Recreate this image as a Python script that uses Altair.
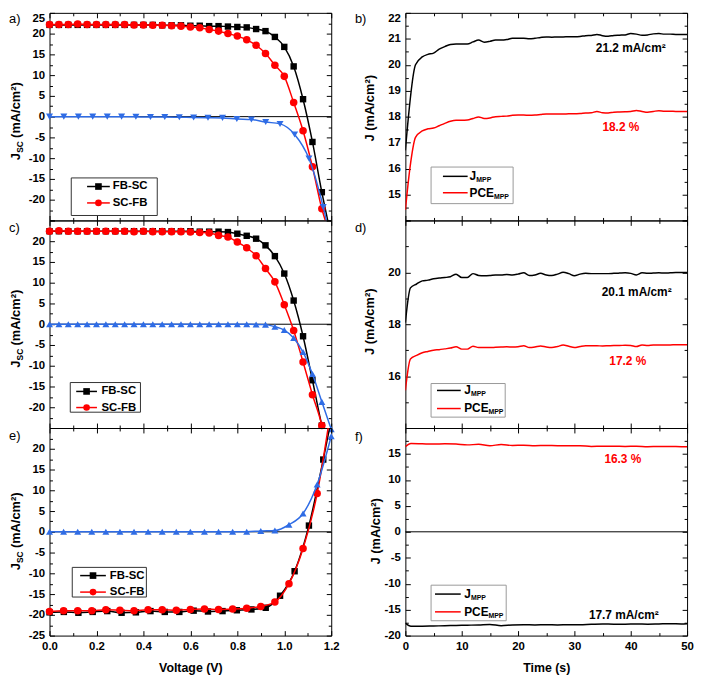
import altair as alt
import pandas as pd

FONT = "Liberation Sans"
BLACK = "#000000"
RED = "#ff0000"
BLUE = "#2f6ce5"
PW, PH = 285, 210

# ---------------- data ----------------
V_DOM = [0, 1.2]
J_DOM = [-25, 25]
T_DOM = [0, 50]
BD_DOM = [14, 22]
F_DOM = [-20, 20]

# a) J-V
a_fb_v = [0.00, 0.04, 0.08, 0.12, 0.16, 0.20, 0.24, 0.28, 0.32, 0.36, 0.40, 0.44, 0.48, 0.52, 0.56,
          0.60, 0.64, 0.68, 0.72, 0.76, 0.80, 0.84, 0.88, 0.92, 0.96, 1.00, 1.04, 1.08, 1.12, 1.16]
a_fb_j = [22.1, 22.1, 22.1, 22.1, 22.1, 22.1, 22.1, 22.1, 22.1, 22.1, 22.1, 22.1, 22.0, 22.0, 22.0,
          21.9, 21.9, 21.8, 21.8, 21.7, 21.6, 21.5, 21.1, 20.6, 19.2, 16.8, 12.1, 4.2, -6.1, -18.2]
a_fb_tail_v, a_fb_tail_j = [1.19], [-26.3]
a_sc_v = a_fb_v
a_sc_j = [22.2, 22.2, 22.2, 22.3, 22.2, 22.2, 22.2, 22.2, 22.2, 22.1, 22.1, 22.0, 22.0, 21.9, 21.8,
          21.6, 21.4, 21.0, 20.6, 20.0, 19.4, 18.5, 17.2, 15.2, 12.4, 9.7, 3.4, -3.4, -12.1, -22.2]
a_sc_tail_v, a_sc_tail_j = [1.19], [-27.6]
a_bl_v = [0.000, 0.061, 0.123, 0.184, 0.246, 0.307, 0.368, 0.430, 0.491, 0.553, 0.614, 0.675, 0.737,
          0.798, 0.860, 0.921, 0.982, 1.044, 1.105, 1.166]
a_bl_j = [0.0, 0.0, 0.0, 0.0, 0.0, 0.0, -0.05, -0.1, -0.1, -0.15, -0.2, -0.25, -0.3, -0.55, -0.7,
          -1.3, -1.75, -4.3, -10.1, -21.8]
a_bl_tail_v, a_bl_tail_j = [1.19], [-27.7]

# c) J-V
c_fb_v = a_fb_v
c_fb_j = [22.4, 22.4, 22.4, 22.4, 22.4, 22.4, 22.4, 22.4, 22.4, 22.4, 22.4, 22.4, 22.4, 22.4, 22.4,
          22.4, 22.3, 22.3, 22.3, 22.2, 21.8, 21.3, 20.6, 19.0, 16.4, 12.2, 5.7, -2.9, -13.5, -24.4]
c_fb_tail_v, c_fb_tail_j = [1.18], [-29.0]
c_sc_v = a_fb_v
c_sc_j = [22.4, 22.5, 22.4, 22.4, 22.4, 22.4, 22.4, 22.4, 22.4, 22.3, 22.4, 22.3, 22.3, 22.3, 22.3,
          22.2, 22.1, 22.0, 21.4, 21.0, 19.8, 18.4, 16.5, 13.4, 10.2, 4.7, -1.5, -9.1, -17.0, -24.4]
c_sc_tail_v, c_sc_tail_j = [1.18], [-30.0]
c_bl_v = a_fb_v + [1.20]
c_bl_j = [0.0] * 21 + [-0.02, -0.05, -0.1, -0.6, -1.4, -3.3, -6.7, -12.0, -18.7, -25.3]

# e) J-V
e_sc_v = [0.00, 0.06, 0.12, 0.18, 0.24, 0.30, 0.36, 0.42, 0.48, 0.54, 0.60, 0.66, 0.72, 0.78, 0.84,
          0.90, 0.96, 1.02, 1.08, 1.14]
e_sc_j = [-19.2, -19.0, -19.0, -19.0, -18.8, -18.9, -19.0, -18.8, -18.8, -18.9, -18.7, -18.6, -18.7,
          -18.6, -18.4, -18.0, -16.9, -12.5, -4.0, 9.2]
e_sc_tail_v, e_sc_tail_j = [1.20], [30.0]
e_fb_v = a_bl_v
e_fb_j = [-19.4, -19.3, -19.5, -19.3, -19.1, -19.5, -19.4, -19.1, -19.3, -19.3, -19.0, -19.2, -19.1,
          -18.9, -18.7, -18.3, -15.4, -9.5, 1.5, 17.4]
e_fb_tail_v, e_fb_tail_j = [1.20], [27.0]
e_bl_v = e_sc_v + [1.20]
e_bl_j = [0.0] * 15 + [0.2, 0.3, 1.7, 4.4, 11.4, 23.0]

zero_line = [0]

# b) MPP tracking
b_j_t = [0, 1.8, 3, 4, 5, 6, 7, 8, 9, 10, 11, 12, 13, 14, 15, 16, 17, 18, 19, 20, 21, 22, 23, 24, 25,
         26, 27, 28, 29, 30, 31, 32, 33, 34, 35, 36, 37, 38, 39, 40, 41, 42, 43, 44, 45, 46, 47, 48, 49, 50]
b_j = [16.7, 20.0, 20.3, 20.4, 20.45, 20.6, 20.7, 20.78, 20.8, 20.8, 20.8, 20.88, 20.95, 20.87, 20.9,
       20.95, 20.95, 20.97, 21.02, 21.02, 21.02, 21.0, 21.02, 21.05, 21.07, 21.06, 21.07, 21.07, 21.08,
       21.08, 21.09, 21.12, 21.13, 21.17, 21.12, 21.1, 21.13, 21.14, 21.15, 21.2, 21.18, 21.14, 21.15,
       21.19, 21.2, 21.18, 21.18, 21.17, 21.17, 21.17]
b_p_t = [0, 0.8, 1.8, 3, 4, 5, 6, 7, 8, 9, 10, 11, 12, 13, 14, 15, 16, 17, 18, 19, 20, 21, 22, 23, 24,
         25, 26, 27, 28, 29, 30, 31, 32, 33, 34, 35, 36, 37, 38, 39, 40, 41, 42, 43, 44, 45, 46, 47, 48, 49, 50]
b_p = [14.4, 16.0, 17.2, 17.45, 17.53, 17.56, 17.65, 17.74, 17.82, 17.86, 17.86, 17.87, 17.93, 17.99,
       17.93, 17.95, 18.0, 18.01, 18.02, 18.05, 18.06, 18.06, 18.05, 18.06, 18.08, 18.1, 18.1, 18.1,
       18.1, 18.11, 18.11, 18.12, 18.14, 18.15, 18.2, 18.15, 18.14, 18.17, 18.18, 18.19, 18.2, 18.24,
       18.2, 18.17, 18.2, 18.23, 18.21, 18.21, 18.2, 18.2, 18.2]

# d) MPP tracking
d_t = [0, 0.9, 2, 3, 4, 5, 6, 7, 8, 9, 10, 11, 12, 13, 14, 15, 16, 17, 18, 19, 20, 21, 22, 23, 24, 25,
       26, 27, 28, 29, 30, 31, 32, 33, 34, 35, 36, 37, 38, 39, 40, 41, 42, 43, 44, 45, 46, 47, 48, 49, 50]
d_j = [18.06, 19.4, 19.55, 19.67, 19.7, 19.75, 19.78, 19.8, 19.83, 19.93, 19.8, 19.8, 19.95, 19.88,
       19.87, 19.88, 19.9, 19.9, 19.92, 19.9, 19.93, 19.98, 19.88, 19.9, 19.96, 19.9, 19.88, 19.93, 20.0,
       19.95, 19.87, 19.93, 19.96, 19.95, 19.95, 19.95, 19.95, 19.96, 19.97, 19.98, 19.96, 19.9, 19.98,
       19.96, 19.97, 19.98, 19.97, 19.98, 19.99, 19.99, 19.99]
d_p = [15.45, 16.66, 16.8, 16.9, 16.95, 17.0, 17.02, 17.05, 17.08, 17.13, 17.04, 17.04, 17.15, 17.1,
       17.1, 17.1, 17.11, 17.12, 17.13, 17.12, 17.13, 17.17, 17.1, 17.12, 17.16, 17.12, 17.1, 17.14,
       17.2, 17.15, 17.1, 17.14, 17.17, 17.17, 17.17, 17.16, 17.17, 17.18, 17.18, 17.19, 17.18, 17.14,
       17.2, 17.18, 17.2, 17.2, 17.2, 17.2, 17.21, 17.21, 17.21]

# f) MPP tracking
f_t = [0, 1, 3, 5, 7, 9, 11, 13, 15, 17, 19, 21, 23, 25, 27, 29, 31, 33, 35, 37, 39, 41, 43, 45, 47, 49, 50]
f_p = [16.4, 17.0, 16.95, 16.9, 16.95, 16.9, 16.75, 16.85, 16.6, 16.8, 16.65, 16.7, 16.6, 16.65, 16.6,
       16.6, 16.6, 16.45, 16.5, 16.5, 16.45, 16.5, 16.4, 16.45, 16.45, 16.4, 16.4]
f_j = [-17.6, -18.2, -18.2, -18.15, -18.1, -18.05, -18.0, -17.95, -17.85, -18.1, -17.95, -17.9, -17.95,
       -17.9, -17.95, -17.9, -17.9, -17.8, -17.75, -17.8, -17.8, -17.75, -17.8, -17.75, -17.7, -17.75, -17.7]

# tick values / labels
v_major = [0, 0.2, 0.4, 0.6, 0.8, 1.0, 1.2]
v_minor = [0.1, 0.3, 0.5, 0.7, 0.9, 1.1]
jv_major = [-25, -20, -15, -10, -5, 0, 5, 10, 15, 20, 25]
jv_minor = [-22.5, -17.5, -12.5, -7.5, -2.5, 2.5, 7.5, 12.5, 17.5, 22.5]
a_labels = [25, 20, 15, 10, 5, 0, -5, -10, -15, -20]
c_labels = [20, 15, 10, 5, 0, -5, -10, -15, -20]
e_labels = [20, 15, 10, 5, 0, -5, -10, -15, -20, -25]
t_major = [0, 10, 20, 30, 40, 50]
t_minor = [5, 15, 25, 35, 45]
b_major = [14, 15, 16, 17, 18, 19, 20, 21, 22]
b_minor = [14.5, 15.5, 16.5, 17.5, 18.5, 19.5, 20.5, 21.5]
b_labels = [15, 16, 17, 18, 19, 20, 21, 22]
d_major = [14, 16, 18, 20, 22]
d_minor = [15, 17, 19, 21]
d_labels = [16, 18, 20]
f_major = [-20, -15, -10, -5, 0, 5, 10, 15, 20]
f_minor = [-17.5, -12.5, -7.5, -2.5, 2.5, 7.5, 12.5, 17.5]
f_labels = [-20, -15, -10, -5, 0, 5, 10, 15]


# ---------------- helpers ----------------
def sc(d):
    return alt.Scale(domain=d, nice=False, zero=False)


def tick_axis(orient, vals, size):
    return alt.Axis(orient=orient, values=vals, tickSize=size, offset=-size, labels=False,
                    domain=False, grid=False, ticks=True, title=None, tickColor=BLACK, tickWidth=1)


def axes_layers(xd, yd, xmaj, xmin, ymaj, ymin, ylabels, ylabel_flush=False, ytitle=None,
                xlabels=None, xfmt=None, xtitle=None):
    df = pd.DataFrame({"x": [xd[0]], "y": [yd[0]]})

    def mk(xax, yax):
        return alt.Chart(df).mark_point(opacity=0).encode(
            x=alt.X("x:Q", scale=sc(xd), axis=xax),
            y=alt.Y("y:Q", scale=sc(yd), axis=yax))

    ykw = dict(orient="left", values=ylabels, ticks=False, domain=False, grid=False, labelPadding=5,
               labelExpr="datum.value + ''", labelOverlap=False, labelFlush=ylabel_flush)
    if ytitle:
        txt, tx, ty = ytitle
        ykw.update(title=txt, titleX=tx, titleY=ty, titleAngle=270, titleAlign="center",
                   titleBaseline="alphabetic", titleFontSize=13, titleFontWeight="bold",
                   titleFont=FONT, titleColor=BLACK)
    else:
        ykw.update(title=None)
    yl = alt.Axis(**ykw)
    if xlabels:
        xkw = dict(orient="bottom", values=xlabels, ticks=False, domain=False, grid=False,
                   labelPadding=5, labelFlush=False, labelOverlap=False, format=xfmt,
                   title=xtitle, titleY=36, titleBaseline="alphabetic", titleFontSize=12.5,
                   titleFontWeight="bold", titleFont=FONT, titleColor=BLACK)
        xl = alt.Axis(**xkw)
    else:
        xl = None
    return [
        mk(xl, yl),
        mk(tick_axis("bottom", xmaj, 5), tick_axis("left", ymaj, 5)),
        mk(tick_axis("bottom", xmin, 3), tick_axis("left", ymin, 3)),
        mk(tick_axis("top", xmaj, 5), tick_axis("right", ymaj, 5)),
        mk(tick_axis("top", xmin, 3), tick_axis("right", ymin, 3)),
    ]


def line(xs, ys, xd, yd, color, width=1.5):
    df = pd.DataFrame({"x": xs, "y": ys})
    return alt.Chart(df).mark_line(color=color, strokeWidth=width, interpolate="monotone",
                                   clip=True).encode(
        x=alt.X("x:Q", scale=sc(xd), axis=None), y=alt.Y("y:Q", scale=sc(yd), axis=None))


def pts(xs, ys, xd, yd, color, shape, size):
    df = pd.DataFrame({"x": xs, "y": ys})
    return alt.Chart(df).mark_point(shape=shape, filled=True, color=color, size=size,
                                    opacity=1).encode(
        x=alt.X("x:Q", scale=sc(xd), axis=None), y=alt.Y("y:Q", scale=sc(yd), axis=None))


def zero(yd):
    return alt.Chart(pd.DataFrame({"y": zero_line})).mark_rule(color=BLACK, strokeWidth=1).encode(
        y=alt.Y("y:Q", scale=sc(yd), axis=None))


def text(t, x, y, size=12, color=BLACK, weight="bold", align="left", baseline="middle",
         angle=0, dx=0, dy=0):
    return alt.Chart(pd.DataFrame({"t": [t]})).mark_text(
        align=align, baseline=baseline, font=FONT, fontSize=size, fontWeight=weight, color=color,
        angle=angle, dx=dx, dy=dy).encode(x=alt.value(x), y=alt.value(y), text="t:N")


def jsc_title(x, y):
    return [text("J", x, y, 13, angle=270, baseline="alphabetic"),
            text("SC", x, y, 8.5, angle=270, baseline="alphabetic", dx=7.4, dy=3),
            text("(mA/cm²)", x, y, 13, angle=270, baseline="alphabetic", dx=22.5)]


def box(x1, y1, x2, y2, stroke):
    return alt.Chart(pd.DataFrame({"a": [0]})).mark_rect(fill="white", stroke=stroke,
                                                         strokeWidth=1).encode(
        x=alt.value(x1), x2=alt.value(x2), y=alt.value(y1), y2=alt.value(y2))


def hline(x1, x2, y, color, width=1.5):
    return alt.Chart(pd.DataFrame({"a": [0]})).mark_rule(color=color, strokeWidth=width).encode(
        x=alt.value(x1), x2=alt.value(x2), y=alt.value(y))


def marker(x, y, color, shape, size):
    return alt.Chart(pd.DataFrame({"a": [0]})).mark_point(shape=shape, filled=True, color=color,
                                                          size=size, opacity=1).encode(
        x=alt.value(x), y=alt.value(y))


def jv_legend(bx, lx, tx, rows):
    out = [box(*bx, stroke="#333333")]
    for lab, color, shape, y in rows:
        out += [hline(lx[0], lx[1], y, color), marker((lx[0] + lx[1]) / 2, y, color, shape, 45),
                text(lab, tx, y, 11.5)]
    return out


def mpp_legend(bx, lx, tx, ys):
    out = [box(*bx, stroke="#999999")]
    out += [hline(lx[0], lx[1], ys[0], BLACK), text("J", tx, ys[0], 12),
            text("MPP", tx + 6.8, ys[0], 7, dy=4)]
    out += [hline(lx[0], lx[1], ys[1], RED), text("PCE", tx, ys[1], 12),
            text("MPP", tx + 24.6, ys[1], 7, dy=4)]
    return out


def jv_series(fb, sc_, bl, tri):
    (fv, fj, ftv, ftj), (sv, sj, stv, stj), (bv, bj, btv, btj) = fb, sc_, bl
    return [
        line(fv + ftv, fj + ftj, V_DOM, J_DOM, BLACK),
        pts(fv, fj, V_DOM, J_DOM, BLACK, "square", 42),
        line(sv + stv, sj + stj, V_DOM, J_DOM, RED),
        pts(sv, sj, V_DOM, J_DOM, RED, "circle", 58),
        line(bv + btv, bj + btj, V_DOM, J_DOM, BLUE),
        pts(bv, bj, V_DOM, J_DOM, BLUE, tri, 50),
    ]


def panel(layers):
    return alt.layer(*layers).resolve_axis(x="independent", y="independent").properties(
        width=PW, height=PH)


# ---------------- panels ----------------
pa = panel(
    [zero(J_DOM)]
    + axes_layers(V_DOM, J_DOM, v_major, v_minor, jv_major, jv_minor, a_labels, ylabel_flush=True)
    + jv_series((a_fb_v, a_fb_j, a_fb_tail_v, a_fb_tail_j), (a_sc_v, a_sc_j, a_sc_tail_v, a_sc_tail_j),
                (a_bl_v, a_bl_j, a_bl_tail_v, a_bl_tail_j), "triangle-down")
    + jv_legend((22, 167, 109, 205), (38, 61), 64, [("FB-SC", BLACK, "square", 175.7),
                                                    ("SC-FB", RED, "circle", 192.3)])
    + jsc_title(-30, 149)
    + [text("a)", -41, 10, 13, weight="normal", baseline="alphabetic")]
)

pc = panel(
    [zero(J_DOM)]
    + axes_layers(V_DOM, J_DOM, v_major, v_minor, jv_major, jv_minor, c_labels)
    + jv_series((c_fb_v, c_fb_j, c_fb_tail_v, c_fb_tail_j), (c_sc_v, c_sc_j, c_sc_tail_v, c_sc_tail_j),
                (c_bl_v, c_bl_j, [], []), "triangle-up")
    + jv_legend((21, 164, 92, 194), (27, 48), 52.5, [("FB-SC", BLACK, "square", 173),
                                                     ("SC-FB", RED, "circle", 189.3)])
    + jsc_title(-30, 149)
    + [text("c)", -41, 12, 13, weight="normal", baseline="alphabetic")]
)

pe = panel(
    [zero(J_DOM)]
    + axes_layers(V_DOM, J_DOM, v_major, v_minor, jv_major, jv_minor, e_labels,
                  xlabels=v_major, xfmt=".1f", xtitle="Voltage (V)")
    + jv_series((e_fb_v, e_fb_j, e_fb_tail_v, e_fb_tail_j), (e_sc_v, e_sc_j, e_sc_tail_v, e_sc_tail_j),
                (e_bl_v, e_bl_j, [], []), "triangle-up")
    + jv_legend((23, 141, 98, 171), (31, 57), 61, [("FB-SC", BLACK, "square", 149.3),
                                                   ("SC-FB", RED, "circle", 166)])
    + jsc_title(-30, 144)
    + [text("e)", -41, 12, 13, weight="normal", baseline="alphabetic")]
)

pb = panel(
    axes_layers(T_DOM, BD_DOM, t_major, t_minor, b_major, b_minor, b_labels, ylabel_flush=True,
                ytitle=("J (mA/cm²)", -32, 96))
    + [line(b_j_t, b_j, T_DOM, BD_DOM, BLACK), line(b_p_t, b_p, T_DOM, BD_DOM, RED)]
    + [text("21.2 mA/cm²", 228, 36, 12, align="center"),
       text("18.2 %", 218, 116, 12, color=RED, align="center")]
    + mpp_legend((26, 156, 109, 193), (38, 63), 65, (165.4, 182))
    + [text("b)", -51, 10, 13, weight="normal", baseline="alphabetic")]
)

pd_ = panel(
    axes_layers(T_DOM, BD_DOM, t_major, t_minor, d_major, d_minor, d_labels,
                ytitle=("J (mA/cm²)", -32, 102))
    + [line(d_t, d_j, T_DOM, BD_DOM, BLACK), line(d_t, d_p, T_DOM, BD_DOM, RED)]
    + [text("20.1 mA/cm²", 234, 72, 12, align="center"),
       text("17.2 %", 225, 142, 12, color=RED, align="center")]
    + mpp_legend((26, 165, 101, 199), (32, 56), 59.5, (172, 190.3))
    + [text("d)", -51, 12, 13, weight="normal", baseline="alphabetic")]
)

pf = panel(
    [zero(F_DOM)]
    + axes_layers(T_DOM, F_DOM, t_major, t_minor, f_major, f_minor, f_labels,
                  ytitle=("J (mA/cm²)", -26, 104), xlabels=t_major, xfmt="d", xtitle="Time (s)")
    + [line(f_t, f_j, T_DOM, F_DOM, BLACK), line(f_t, f_p, T_DOM, F_DOM, RED)]
    + [text("16.3 %", 220, 31, 12, color=RED, align="center"),
       text("17.7 mA/cm²", 221, 189, 12, align="center")]
    + mpp_legend((26, 159, 102, 195), (30, 56), 59.5, (168, 186))
    + [text("f)", -51, 13, 13, weight="normal", baseline="alphabetic")]
)

chart = alt.concat(pa, pb, pc, pd_, pe, pf, columns=2, spacing={"row": 0, "column": 75},
                   bounds="flush").properties(padding=0).configure_view(
    stroke=BLACK, strokeWidth=1).configure_axis(
    labelFont=FONT, labelFontSize=11.5, labelFontWeight="bold", labelColor=BLACK)

chart.save("out.html", embed_options={"renderer": "svg", "actions": False})
